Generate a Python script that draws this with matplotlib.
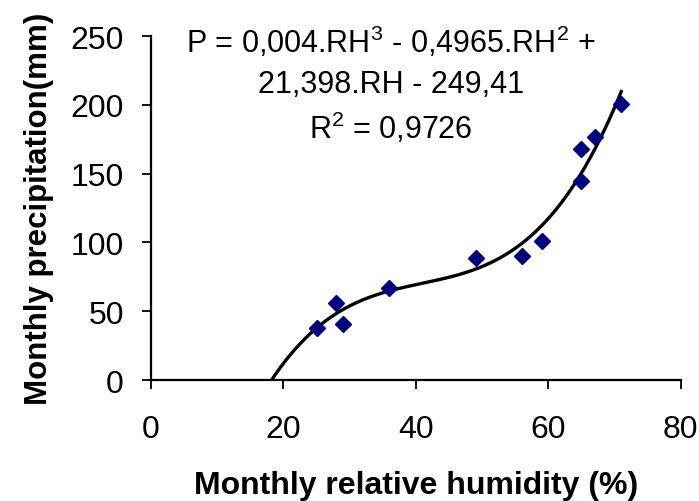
import numpy as np
import matplotlib
matplotlib.use("Agg")
import matplotlib.pyplot as plt

plt.rcParams['font.family'] = ['Liberation Sans', 'DejaVu Sans']
plt.rcParams['mathtext.fontset'] = 'custom'
plt.rcParams['mathtext.rm'] = 'Liberation Sans'

# monthly relative humidity (%) and precipitation (mm)
humidity = [25, 28, 29, 36, 49, 56, 59, 65, 65, 67, 71]
precip = [38, 56, 41, 67, 89, 90, 101, 168, 145, 177, 201]

x_ticks = [0, 20, 40, 60, 80]
y_ticks = [0, 50, 100, 150, 200, 250]

eq_lines = ['P = 0,004.RH$^3$ - 0,4965.RH$^2$ +',
            '21,398.RH - 249,41',
            'R$^2$ = 0,9726']

# cubic trendline fitted to the points (as the spreadsheet did)
coef = np.polyfit(humidity, precip, 3)
xs = np.linspace(15, max(humidity), 300)
ys = np.polyval(coef, xs)

fig = plt.figure(figsize=(6.99, 5.02), dpi=100)
ax = fig.add_axes([0.216, 0.241, 0.758, 0.685])

ax.plot(xs, ys, color='black', lw=2.4, zorder=2)
ax.plot(humidity, precip, linestyle='none', marker='D', markersize=8,
        color='#000080', zorder=3)

ax.set_xlim(0, 80)
ax.set_ylim(0, 250)
ax.set_xticks(x_ticks)
ax.set_yticks(y_ticks)
ax.tick_params(direction='out', length=6.5, width=1.3, labelsize=23)
ax.tick_params(axis='y', pad=13)
ax.tick_params(axis='x', pad=18)

for s in ['top', 'right']:
    ax.spines[s].set_visible(False)
for s in ['left', 'bottom']:
    ax.spines[s].set_linewidth(1.6)

ax.set_xlabel('Monthly relative humidity (%)', fontsize=23, fontweight='bold', labelpad=19)
ax.set_ylabel('Monthly precipitation(mm)', fontsize=22.5, fontweight='bold', labelpad=12)

ax.text(0.453, 1.035, '\n'.join(eq_lines), transform=ax.transAxes,
        ha='center', va='top', fontsize=22, linespacing=1.4)

fig.savefig('out.png', dpi=100)
